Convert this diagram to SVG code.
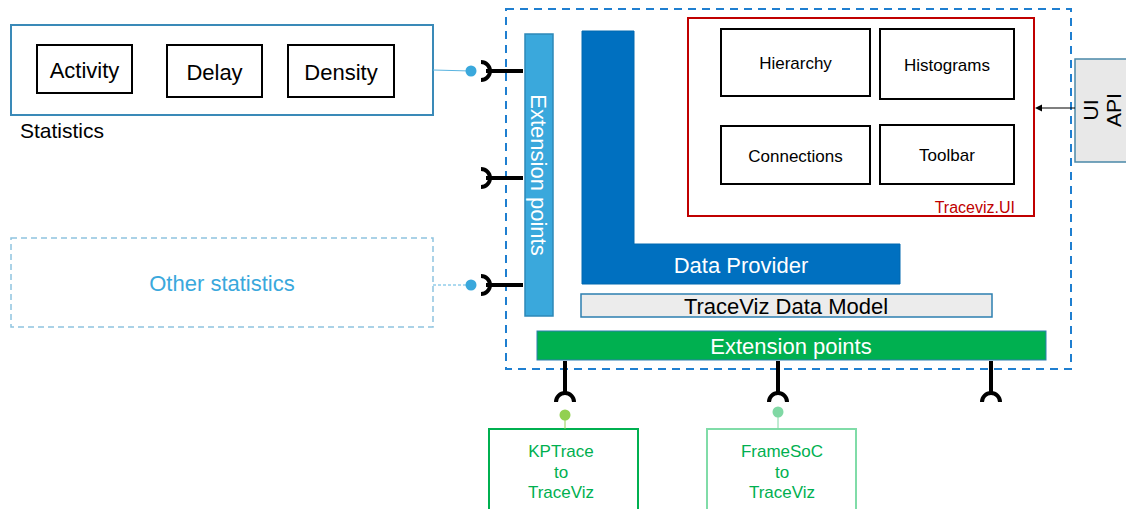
<svg xmlns="http://www.w3.org/2000/svg" width="1126" height="509" viewBox="0 0 1126 509">
<style>
text{font-family:"Liberation Sans",Arial,sans-serif}
.bk{fill:#fff;stroke:#000;stroke-width:2}
.sock{fill:none;stroke:#000;stroke-width:4}
.c{text-anchor:middle}
</style>
<rect width="1126" height="509" fill="#fff"/>
<g id="main-boundary"><rect x="506" y="9" width="565" height="360" fill="none" stroke="#1f7fd0" stroke-width="2" stroke-dasharray="8,6"/></g>
<g id="statistics">
<rect x="11" y="25" width="422" height="90" fill="#fff" stroke="#3a8ab8" stroke-width="2"/>
<text x="20" y="138" font-size="21">Statistics</text>
<g id="activity"><rect class="bk" x="37" y="45" width="95" height="48"/><text class="c" x="84.5" y="78" font-size="22">Activity</text></g>
<g id="delay"><rect class="bk" x="167" y="45" width="95" height="52"/><text class="c" x="214.5" y="80" font-size="22">Delay</text></g>
<g id="density"><rect class="bk" x="288" y="45" width="106" height="52"/><text class="c" x="341" y="80" font-size="22">Density</text></g>
</g>
<g id="other-statistics">
<rect x="11" y="238" width="422" height="89" fill="#fff" stroke="#8fc4e0" stroke-width="1.5" stroke-dasharray="6,4"/>
<text class="c" x="222" y="291" font-size="22" fill="#3aa8dc">Other statistics</text>
</g>
<g id="ext-points-v">
<rect x="525" y="34" width="28" height="282" fill="#3aa8dc" stroke="#2d88b8" stroke-width="1.5"/>
<text class="c" transform="translate(531,175) rotate(90)" font-size="22" fill="#fff">Extension points</text>
</g>
<g id="data-provider">
<path d="M582 31 H634 V244 H900 V284 H582 Z" fill="#0070c0" stroke="#0068b0" stroke-width="1"/>
<text class="c" x="741" y="273" font-size="22" fill="#fff">Data Provider</text>
</g>
<g id="data-model">
<rect x="581" y="294" width="411" height="23" fill="#ececec" stroke="#2d7fb0" stroke-width="1.5"/>
<text class="c" x="786" y="314" font-size="22">TraceViz Data Model</text>
</g>
<g id="ext-points-h">
<rect x="537" y="331" width="509" height="29" fill="#00b050" stroke="#2d7fb0" stroke-width="1"/>
<text class="c" x="791" y="354" font-size="22" fill="#fff">Extension points</text>
</g>
<g id="traceviz-ui">
<rect x="688" y="18" width="346" height="198" fill="#fff" stroke="#c00000" stroke-width="2"/>
<text x="1015" y="213" font-size="16" fill="#c00000" text-anchor="end">Traceviz.UI</text>
<g id="hierarchy"><rect class="bk" x="721" y="29" width="149" height="67"/><text class="c" x="795.5" y="69" font-size="17">Hierarchy</text></g>
<g id="histograms"><rect class="bk" x="880" y="29" width="134" height="70"/><text class="c" x="947" y="71" font-size="17">Histograms</text></g>
<g id="connections"><rect class="bk" x="721" y="126" width="149" height="58"/><text class="c" x="795.5" y="162" font-size="17">Connections</text></g>
<g id="toolbar"><rect class="bk" x="880" y="125" width="134" height="59"/><text class="c" x="947" y="161" font-size="17">Toolbar</text></g>
</g>
<g id="ui-api">
<rect x="1075" y="59" width="60" height="103" fill="#e8e8e8" stroke="#4a88a8" stroke-width="1.5"/>
<text class="c" transform="translate(1098,110) rotate(-90)" font-size="21">UI</text>
<text class="c" transform="translate(1121,110) rotate(-90)" font-size="21">API</text>
</g>
<g id="kptrace">
<rect x="489" y="429" width="149" height="90" fill="#fff" stroke="#00b050" stroke-width="2"/>
<text class="c" x="561" y="457" font-size="17" fill="#00b050">KPTrace</text>
<text class="c" x="561" y="478" font-size="17" fill="#00b050">to</text>
<text class="c" x="561" y="498" font-size="17" fill="#00b050">TraceViz</text>
</g>
<g id="framesoc">
<rect x="707" y="429" width="149" height="90" fill="#fff" stroke="#80dca8" stroke-width="2"/>
<text class="c" x="782" y="457" font-size="17" fill="#00b050">FrameSoC</text>
<text class="c" x="782" y="478" font-size="17" fill="#00b050">to</text>
<text class="c" x="782" y="498" font-size="17" fill="#00b050">TraceViz</text>
</g>
<g id="connectors">
<line x1="433" y1="70" x2="471" y2="71" stroke="#5ab4e0" stroke-width="1"/>
<circle cx="471" cy="71" r="5.5" fill="#3aa8dc"/>
<line x1="433" y1="285" x2="471" y2="285" stroke="#5ab4e0" stroke-width="1" stroke-dasharray="3,2"/>
<circle cx="471" cy="285" r="5.5" fill="#3aa8dc"/>
<g class="sock">
<line x1="486" y1="71" x2="523" y2="71"/><path d="M481 62 A9 9 0 0 1 481 80"/>
<line x1="486" y1="178" x2="523" y2="178"/><path d="M481 169 A9 9 0 0 1 481 187"/>
<line x1="486" y1="285" x2="523" y2="285"/><path d="M481 276 A9 9 0 0 1 481 294"/>
<line x1="565" y1="361" x2="565" y2="393"/><path d="M556 402 A9 9 0 0 1 574 402"/>
<line x1="778" y1="361" x2="778" y2="393"/><path d="M769 402 A9 9 0 0 1 787 402"/>
<line x1="991" y1="361" x2="991" y2="393"/><path d="M982 402 A9 9 0 0 1 1000 402"/>
</g>
<circle cx="565" cy="415" r="5.5" fill="#92d050"/>
<line x1="565" y1="420" x2="565" y2="429" stroke="#92d050" stroke-width="1"/>
<circle cx="778" cy="412" r="5.5" fill="#80d8a4"/>
<line x1="778" y1="417" x2="778" y2="429" stroke="#80d8a4" stroke-width="1"/>
<line x1="1075" y1="108" x2="1040" y2="108" stroke="#000" stroke-width="1.2"/>
<path d="M1035 108 L1042 104.5 L1042 111.5 Z" fill="#000"/>
</g>
</svg>
